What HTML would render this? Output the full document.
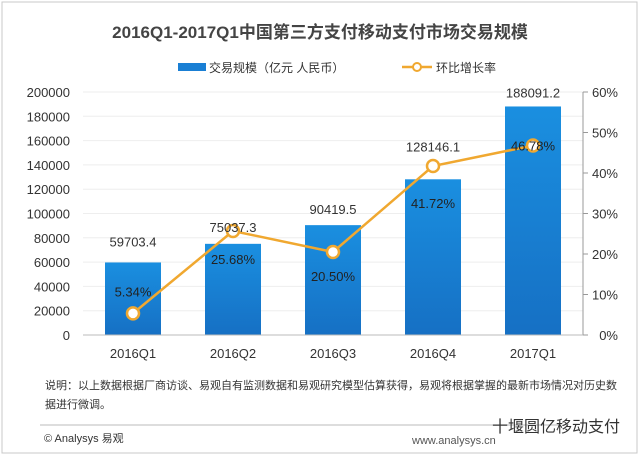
<!DOCTYPE html>
<html><head><meta charset="utf-8"><style>
body{margin:0;background:#fff;}
svg{display:block;font-family:"Liberation Sans","Noto Sans CJK SC",sans-serif;}
</style></head><body>
<svg width="640" height="456" viewBox="0 0 640 456">
<defs><linearGradient id="bg" x1="0" y1="0" x2="0" y2="1"><stop offset="0" stop-color="#1a8fe0"/><stop offset="1" stop-color="#1670c4"/></linearGradient></defs>
<rect x="2" y="2" width="635" height="451" fill="#fff" stroke="#c8c8c8"/>
<text x="320" y="38" text-anchor="middle" font-size="17" font-weight="bold" fill="#444">2016Q1-2017Q1中国第三方支付移动支付市场交易规模</text>
<g>
<rect x="178" y="63" width="28" height="8" fill="#1a7fd4"/>
<text x="209" y="72" font-size="12" fill="#333">交易规模（亿元 人民币）</text>
<line x1="402" y1="67" x2="432" y2="67" stroke="#f0a830" stroke-width="2.5"/>
<circle cx="417" cy="67" r="4" fill="#fff" stroke="#f0a830" stroke-width="2"/>
<text x="436" y="72" font-size="12" fill="#333">环比增长率</text>
</g>
<g id="grid"></g><g id="bars"></g><g id="line"></g><g id="labels"></g>
<line x1="583" y1="92" x2="583" y2="335" stroke="#999"/>
<line x1="83" y1="335" x2="583" y2="335" stroke="#bbb"/>
<text x="45" y="389" font-size="11" fill="#333">说明：以上数据根据厂商访谈、易观自有监测数据和易观研究模型估算获得，易观将根据掌握的最新市场情况对历史数</text>
<text x="45" y="408" font-size="11" fill="#333">据进行微调。</text>
<line x1="40" y1="425" x2="560" y2="425" stroke="#bbb"/>
<text x="44" y="442" font-size="11" fill="#333">© Analysys 易观</text>
<text x="412" y="444" font-size="11" fill="#555">www.analysys.cn</text>
<text x="492" y="432" font-size="16" fill="#333">十堰圆亿移动支付</text>
</svg>
<script>
const categories=["2016Q1","2016Q2","2016Q3","2016Q4","2017Q1"];
const volumes=[59703.4,75037.3,90419.5,128146.1,188091.2];
const growth=[5.34,25.68,20.50,41.72,46.78];
const leftTicks=[0,20000,40000,60000,80000,100000,120000,140000,160000,180000,200000];
const rightTicks=[0,10,20,30,40,50,60];
const volLabelOffset=[-16,-12,-11,-28,-9];
const growthLabelOffset=[-17,33,29,42,5];
const NS="http://www.w3.org/2000/svg";
const X0=83,X1=583,Y0=335,Y1=92;
const band=(X1-X0)/categories.length;
const xc=i=>X0+band*(i+0.5);
const yL=v=>Y0-v/200000*(Y0-Y1);
const yR=v=>Y0-v/60*(Y0-Y1);
function mk(tag,attrs,parent,txt){const e=document.createElementNS(NS,tag);for(const k in attrs)e.setAttribute(k,attrs[k]);if(txt!==undefined)e.textContent=txt;document.getElementById(parent).appendChild(e);return e;}
leftTicks.forEach(t=>{
  if(t>0){const g=mk('line',{x1:X0,x2:X1,y1:yL(t),y2:yL(t),stroke:'#eee'},'grid');
  
  }
  const l=mk('text',{x:70,y:yL(t)+5,'text-anchor':'end','font-size':13,fill:'#333'},'grid',String(t));
  
  
});
rightTicks.forEach(t=>{
  mk('line',{x1:583,x2:588,y1:yR(t),y2:yR(t),stroke:'#999'},'grid');
  const l=mk('text',{x:618,y:yR(t)+5,'text-anchor':'end','font-size':13,fill:'#333'},'grid',t+'%');
  
  
});
const bw=56;
categories.forEach((c,i)=>{
  const b=mk('rect',{x:xc(i)-bw/2,y:yL(volumes[i]),width:bw,height:Y0-yL(volumes[i]),fill:'url(#bg)'},'bars');
  
  
  const v=mk('text',{x:xc(i),y:yL(volumes[i])+volLabelOffset[i],'text-anchor':'middle','font-size':13,fill:'#333'},'labels',volumes[i].toFixed(1));
  
  
  const x=mk('text',{x:xc(i),y:358,'text-anchor':'middle','font-size':13,fill:'#333'},'labels',c);
  
  
});
const pl=mk('polyline',{points:growth.map((g,i)=>xc(i)+','+yR(g)).join(' '),fill:'none',stroke:'#f0a830','stroke-width':2.5},'line');


growth.forEach((g,i)=>{
  const p=mk('circle',{cx:xc(i),cy:yR(g),r:6,fill:'#fff',stroke:'#f0a830','stroke-width':2.5},'line');
  
  
  const t=mk('text',{x:xc(i),y:yR(g)+growthLabelOffset[i],'text-anchor':'middle','font-size':13,fill:'#222'},'labels',g.toFixed(2)+'%');
  
  
});
</script>
</body></html>
